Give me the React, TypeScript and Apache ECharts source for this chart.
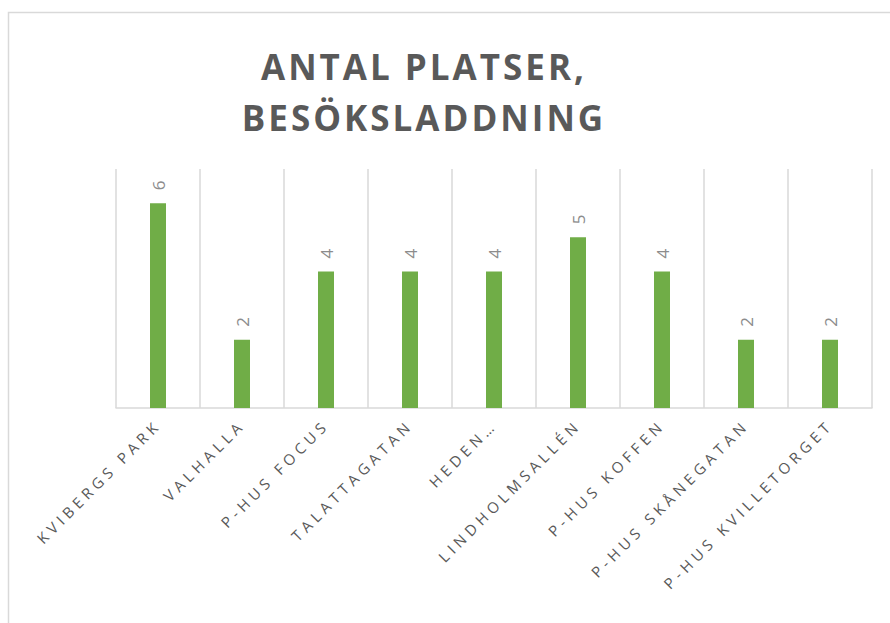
import React, { useEffect, useRef } from "react";
import * as echarts from "echarts";

const titleText = "ANTAL PLATSER,\nBESÖKSLADDNING";
const categories = [
  "KVIBERGS PARK",
  "VALHALLA",
  "P-HUS FOCUS",
  "TALATTAGATAN",
  "HEDEN…",
  "LINDHOLMSALLÉN",
  "P-HUS KOFFEN",
  "P-HUS SKÅNEGATAN",
  "P-HUS KVILLETORGET",
];
const values = [6, 2, 4, 4, 4, 5, 4, 2, 2];

export default function App() {
  const ref = useRef<HTMLDivElement>(null);
  useEffect(() => {
    if (!ref.current) return;
    const chart = echarts.init(ref.current, null, { renderer: "svg" });
    chart.setOption({
      animation: false,
      backgroundColor: "#ffffff",
      graphic: [
        {
          type: "rect",
          shape: { x: 8.5, y: 12.5, width: 900, height: 700 },
          style: { fill: "none", stroke: "#d9d9d9", lineWidth: 1.5 },
          silent: true,
          z: 0,
        },
      ],
      title: {
        text: titleText,
        left: 419,
        textAlign: "center",
        top: 36,
        textStyle: {
          fontFamily: "Open Sans",
          fontWeight: "bold",
          fontSize: 35,
          lineHeight: 51,
          color: "#595959",
        },
      },
      grid: { left: 116, right: 18, top: 169, bottom: 215 },
      xAxis: {
        type: "category",
        data: categories,
        axisLine: { show: true, lineStyle: { color: "#d9d9d9", width: 1.5 } },
        axisTick: { show: false },
        splitLine: { show: true, lineStyle: { color: "#d9d9d9", width: 1.5 } },
        axisLabel: {
          rotate: 45,
          interval: 0,
          margin: 14,
          fontFamily: "Open Sans",
          fontSize: 15,
          color: "#595959",
        },
      },
      yAxis: {
        type: "value",
        min: 0,
        max: 7,
        interval: 1,
        show: false,
        splitLine: { show: false },
      },
      series: [
        {
          type: "bar",
          data: values,
          barWidth: 16,
          itemStyle: { color: "#70ad47" },
          label: {
            show: true,
            position: "top",
            rotate: 90,
            align: "left",
            verticalAlign: "middle",
            distance: 13,
            fontFamily: "Open Sans",
            fontSize: 17,
            color: "#8c8c8c",
          },
        },
      ],
    });
    const svg = ref.current.querySelector("svg");
    if (svg) {
      svg.querySelectorAll("text").forEach((t) => {
        const txt = t.textContent || "";
        if (categories.includes(txt)) {
          t.setAttribute("letter-spacing", "4.5");
        } else if (txt.startsWith("ANTAL") || txt.startsWith("BES")) {
          t.setAttribute("letter-spacing", "3");
        }
      });
    }
    return () => chart.dispose();
  }, []);
  return (
    <div
      ref={ref}
      style={{ position: "absolute", left: 0, top: 0, width: 890, height: 623 }}
    />
  );
}
